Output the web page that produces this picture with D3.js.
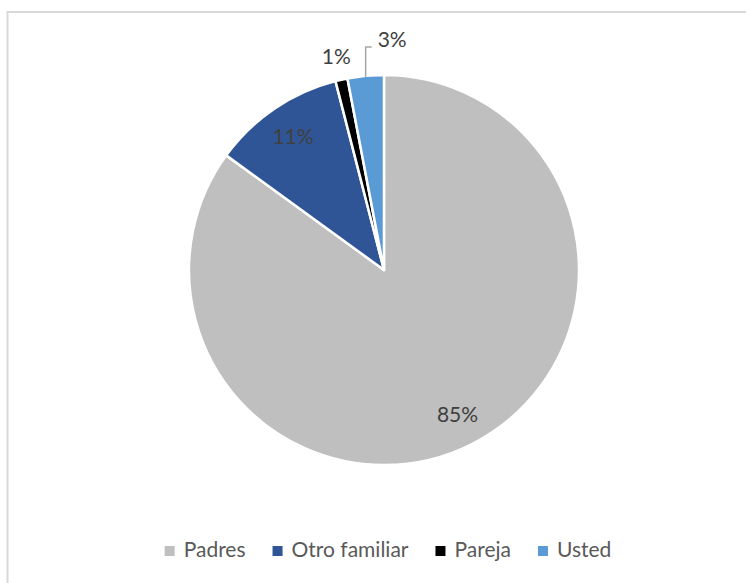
<!DOCTYPE html>
<html>
<head>
<meta charset="utf-8">
<script src="https://cdn.jsdelivr.net/npm/d3@7"></script>
<style>
  html, body { margin: 0; padding: 0; background: #ffffff; }
  svg { display: block; font-family: Lato, "Open Sans", sans-serif; }
</style>
</head>
<body>
<svg id="chart" width="746" height="583"></svg>
<script>
// Who the respondent lives with / depends on
const categories = ["Padres", "Otro familiar", "Pareja", "Usted"];
const values = [85, 11, 1, 3];
const labels = ["85%", "11%", "1%", "3%"];
const colors = ["#bfbfbf", "#2f5597", "#000000", "#5b9bd5"];

const width = 746, height = 583;
const cx = 384, cy = 270, radius = 195;
const fontSize = 21;

const svg = d3.select("#chart");

// chart area frame
svg.append("rect")
  .attr("x", 7.5).attr("y", 12)
  .attr("width", 800).attr("height", 800)
  .attr("fill", "none")
  .attr("stroke", "#d9d9d9")
  .attr("stroke-width", 2);

const data = categories.map((c, i) => ({ name: c, value: values[i], label: labels[i], color: colors[i] }));

const pie = d3.pie().value(d => d.value).sort(null);
const arcs = pie(data);

const arc = d3.arc().innerRadius(0).outerRadius(radius);
const labelArc = d3.arc().innerRadius(radius * 0.83).outerRadius(radius * 0.83);

const g = svg.append("g").attr("transform", `translate(${cx},${cy})`);

g.selectAll("path.slice")
  .data(arcs)
  .join("path")
  .attr("class", "slice")
  .attr("d", arc)
  .attr("fill", d => d.data.color)
  .attr("stroke", "#ffffff")
  .attr("stroke-width", 2.5)
  .attr("stroke-linejoin", "round");

// inside labels for the large slices
g.selectAll("text.inlabel")
  .data(arcs.filter(d => d.data.value >= 10))
  .join("text")
  .attr("class", "inlabel")
  .attr("x", d => labelArc.centroid(d)[0])
  .attr("y", d => labelArc.centroid(d)[1])
  .attr("dy", "0.35em")
  .attr("text-anchor", "middle")
  .attr("font-size", fontSize)
  .attr("fill", "#404040")
  .text(d => d.data.label);

// outside labels for the small slices
const small = arcs.filter(d => d.data.value < 10);
const pareja = small.find(d => d.data.name === "Pareja");
const usted = small.find(d => d.data.name === "Usted");

// Pareja label sits just above its sliver
{
  const a = (pareja.startAngle + pareja.endAngle) / 2;
  const r = radius + 24;
  g.append("text")
    .attr("x", Math.sin(a) * r)
    .attr("y", -Math.cos(a) * r)
    .attr("dy", "0.35em")
    .attr("text-anchor", "middle")
    .attr("font-size", fontSize)
    .attr("fill", "#404040")
    .text(pareja.data.label);
}

// Usted label with a leader line
{
  const a = (usted.startAngle + usted.endAngle) / 2;
  const x0 = Math.sin(a) * radius, y0 = -Math.cos(a) * radius;
  const yTop = -radius - 28;
  g.append("path")
    .attr("d", `M${x0},${y0 + 1}V${yTop}H${x0 + 6}`)
    .attr("fill", "none")
    .attr("stroke", "#a6a6a6")
    .attr("stroke-width", 1.5);
  g.append("text")
    .attr("x", x0 + 12)
    .attr("y", yTop)
    .attr("text-anchor", "start")
    .attr("font-size", fontSize)
    .attr("fill", "#404040")
    .text(usted.data.label);
}

// legend, centred under the pie
const legend = svg.append("g");
const sq = 10, sqGap = 9, itemGap = 27;
const items = legend.selectAll("g.item").data(data).join("g").attr("class", "item");
items.append("rect")
  .attr("width", sq).attr("height", sq)
  .attr("y", 546)
  .attr("fill", d => d.color);
items.append("text")
  .attr("y", 557)
  .attr("font-size", fontSize)
  .attr("fill", "#595959")
  .text(d => d.name);

let total = 0;
const widths = [];
items.each(function() {
  const w = d3.select(this).select("text").node().getComputedTextLength();
  widths.push(w);
  total += sq + sqGap + w;
});
total += itemGap * (data.length - 1);
let xpos = 388 - total / 2;
items.each(function(d, i) {
  const s = d3.select(this);
  s.select("rect").attr("x", xpos);
  s.select("text").attr("x", xpos + sq + sqGap);
  xpos += sq + sqGap + widths[i] + itemGap;
});
</script>
</body>
</html>
